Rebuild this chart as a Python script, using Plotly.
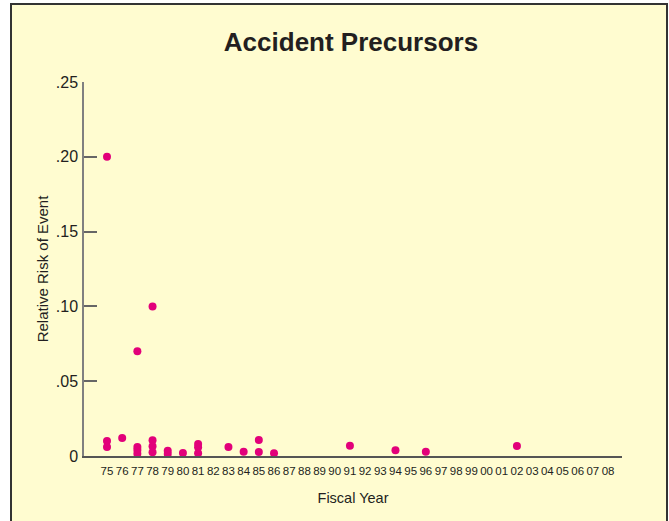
import plotly.graph_objects as go

# Categories (fiscal years)
years = [f"{y:02d}" for y in list(range(75, 100)) + list(range(0, 9))]

# Observed events: fiscal year and relative risk
event_years = ["75", "75", "75", "76", "77", "77", "77", "77",
               "78", "78", "78", "78", "79", "79", "80",
               "81", "81", "81", "83", "84", "85", "85", "86",
               "91", "94", "96", "02"]
event_risk = [0.200, 0.010, 0.006, 0.012, 0.070, 0.006, 0.004, 0.0015,
              0.100, 0.0105, 0.0065, 0.0025, 0.0035, 0.0013, 0.002,
              0.008, 0.0058, 0.0018, 0.006, 0.0029, 0.0107, 0.0027, 0.0018,
              0.0069, 0.0038, 0.0029, 0.0067]

y_tickvals = [0, 0.05, 0.10, 0.15, 0.20, 0.25]
y_ticktext = ["0", ".05", ".10", ".15", ".20", ".25"]

W, H = 669, 521
L, R, T, B = 84, 47, 82, 65
pw, ph = W - L - R, H - T - B

def px_x(px):
    return (px - L) / pw

def px_y(py):
    return (H - B - py) / ph

fig = go.Figure()
fig.add_trace(go.Scatter(
    x=event_years, y=event_risk, mode="markers",
    marker=dict(color="#E2007A", size=8, line=dict(width=0)),
    cliponaxis=False, showlegend=False,
))

fig.add_shape(type="rect", xref="paper", yref="paper",
              x0=px_x(11), x1=px_x(667), y0=px_y(540), y1=px_y(4),
              fillcolor="#FFFCD0", line=dict(color="#333333", width=2),
              layer="below")

narrow = "Liberation Sans Narrow, Liberation Sans, Arial, sans-serif"
regular = "Liberation Sans, Arial, sans-serif"

fig.update_layout(
    width=W, height=H,
    margin=dict(l=L, r=R, t=T, b=B, pad=0),
    paper_bgcolor="white",
    plot_bgcolor="rgba(0,0,0,0)",
    title=dict(text="<b>Accident Precursors</b>", x=px_x(351), xref="paper",
               xanchor="center", y=1 - 42 / H, yanchor="middle",
               font=dict(family=narrow, size=26, color="#231F20")),
    font=dict(family=regular, color="#231F20"),
    xaxis=dict(
        type="category", categoryorder="array", categoryarray=years,
        tickmode="array", tickvals=years, ticktext=years,
        range=[-1.515, 33.92],
        showgrid=False, zeroline=False,
        showline=True, linecolor="#555555", linewidth=1.5,
        ticks="", tickfont=dict(family=narrow, size=11.5, color="#231F20"),
        ticklabelstandoff=3,
        title=dict(text="Fiscal Year", standoff=17,
                   font=dict(family=regular, size=14.5, color="#231F20")),
    ),
    yaxis=dict(
        range=[0, 0.25], tickvals=y_tickvals, ticktext=y_ticktext,
        showgrid=False, zeroline=False,
        showline=True, linecolor="#808080", linewidth=1.5,
        ticks="inside", ticklen=13, tickcolor="#666666", tickwidth=2,
        tickfont=dict(family=regular, size=16, color="#231F20"),
        ticklabelstandoff=1,
        title=dict(text="Relative Risk of Event", standoff=4,
                   font=dict(family=regular, size=15, color="#231F20")),
    ),
)

fig.write_html("out.html", config={"displayModeBar": False},
               post_script="document.body.style.margin='0';")
